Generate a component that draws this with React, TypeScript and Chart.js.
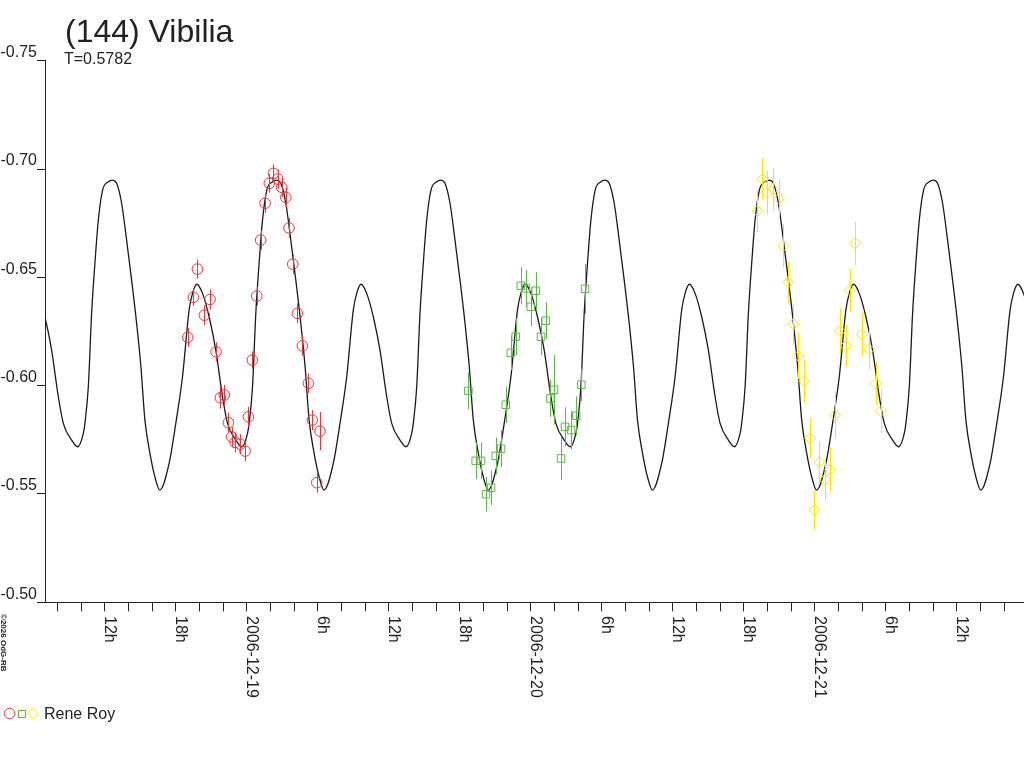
import { useEffect, useRef } from 'react';
import { Chart, registerables } from 'chart.js';

Chart.register(...registerables);

const INK = '#222222';
const FONT = '"Liberation Sans", Arial, sans-serif';
const RED = '#e8353a';
const GREEN = '#5cb946';
const YELLOW = '#ffe300';

const TITLE = '(144) Vibilia';
const SUBTITLE = 'T=0.5782';
const OBSERVER = 'Rene Roy';
const COPYRIGHT = '\u00a92026 OdG-RB';

// hours counted from 2006-12-19 00:00
const X_MIN = -17.05;
const X_MAX = 65.69;
const PERIOD_H = 0.5782 * 24;
const DEEP_MIN_H = 6.53;

// one cycle of the fitted lightcurve, phase 0 = deep minimum
const curvePhase = [0, 0.0566, 0.0974, 0.1382, 0.1784, 0.1991, 0.2253, 0.26, 0.3002, 0.341, 0.3819, 0.4123, 0.4629, 0.4994, 0.5341, 0.5439, 0.5646, 0.5847, 0.6048, 0.6255, 0.6516, 0.6864, 0.7107, 0.7369, 0.7674, 0.7978, 0.8283, 0.8587, 0.8849, 0.9093, 0.9397, 0.9702];
const curveMag = [-0.5518, -0.5641, -0.5826, -0.6041, -0.6349, -0.6426, -0.6468, -0.6426, -0.6318, -0.6164, -0.5949, -0.5826, -0.5749, -0.5718, -0.578, -0.5826, -0.5995, -0.6334, -0.6565, -0.6764, -0.6903, -0.6941, -0.6949, -0.6934, -0.6842, -0.6672, -0.6487, -0.6288, -0.6087, -0.5841, -0.5689, -0.5579];

const redHours = [-4.99, -4.51, -4.17, -3.58, -3.1, -2.59, -2.23, -1.89, -1.55, -1.27, -0.99, -0.54, -0.14, 0.14, 0.47, 0.85, 1.18, 1.55, 1.91, 2.25, 2.62, 2.96, 3.3, 3.57, 3.89, 4.28, 4.7, 5.21, 5.54, 5.92, 6.19];
const redMag = [-0.6223, -0.6408, -0.6538, -0.6325, -0.6398, -0.6156, -0.5944, -0.5957, -0.5829, -0.5764, -0.5738, -0.573, -0.5698, -0.5856, -0.6118, -0.6414, -0.6672, -0.6842, -0.6934, -0.698, -0.6954, -0.6915, -0.6869, -0.6728, -0.6561, -0.6334, -0.6184, -0.6011, -0.5841, -0.5552, -0.579];
const redErr = [0.0044, 0.004, 0.0044, 0.0046, 0.0046, 0.0044, 0.005, 0.0046, 0.0046, 0.0046, 0.0046, 0.0046, 0.0046, 0.0046, 0.004, 0.0044, 0.0044, 0.0044, 0.0044, 0.0042, 0.0044, 0.0044, 0.0044, 0.0046, 0.0046, 0.0046, 0.0046, 0.0046, 0.0046, 0.0046, 0.0088];

const greenHours = [18.73, 19.35, 19.8, 20.22, 20.65, 21.04, 21.49, 21.89, 22.31, 22.73, 23.16, 23.58, 24.0, 24.42, 24.87, 25.27, 25.66, 25.97, 26.56, 26.9, 27.41, 27.85, 28.28, 28.59];
const greenMag = [-0.5976, -0.5653, -0.5653, -0.5499, -0.5529, -0.5676, -0.5709, -0.5912, -0.6152, -0.6226, -0.6461, -0.6449, -0.6364, -0.6438, -0.6226, -0.63, -0.5941, -0.5981, -0.5664, -0.581, -0.5795, -0.5861, -0.6004, -0.6447];
const greenErr = [0.0085, 0.0085, 0.0085, 0.008, 0.008, 0.0085, 0.0085, 0.0085, 0.008, 0.0085, 0.0085, 0.0085, 0.009, 0.0085, 0.0085, 0.0085, 0.0085, 0.016, 0.01, 0.009, 0.009, 0.009, 0.0075, 0.0115];

const yellowHours = [43.15, 43.57, 44.0, 44.5, 44.98, 45.35, 45.77, 46.19, 46.62, 47.1, 47.6, 47.97, 48.39, 48.87, 49.29, 49.72, 50.14, 50.62, 50.98, 51.41, 51.97, 52.59, 53.18, 53.6];
const yellowMag = [-0.6806, -0.6954, -0.6891, -0.6906, -0.6865, -0.6646, -0.6477, -0.6284, -0.6138, -0.6021, -0.5757, -0.5426, -0.5646, -0.5566, -0.5612, -0.5864, -0.6252, -0.6184, -0.6441, -0.6657, -0.6237, -0.6168, -0.6011, -0.5883];
const yellowErr = [0.0096, 0.0096, 0.01, 0.01, 0.0088, 0.01, 0.0096, 0.0096, 0.0108, 0.01, 0.0092, 0.0092, 0.0096, 0.0096, 0.01, 0.0104, 0.0104, 0.0096, 0.01, 0.01, 0.01, 0.0092, 0.01, 0.01];

const yTicks = [-0.75, -0.7, -0.65, -0.6, -0.55, -0.5];
const xLabelHours = [-12, -6, 0, 6, 12, 18, 24, 30, 36, 42, 48, 54, 60];
const xLabelTexts = ['12h', '18h', '2006-12-19', '6h', '12h', '18h', '2006-12-20', '6h', '12h', '18h', '2006-12-21', '6h', '12h'];

const xMinorHours: number[] = [];
for (let h = -16; h <= 64; h += 2) xMinorHours.push(h);

const curvePoints: { x: number; y: number }[] = [];
for (let k = -2; k <= 5; k++) {
  curvePhase.forEach((p, i) => {
    const t = DEEP_MIN_H + (k + p) * PERIOD_H;
    if (t > X_MIN - 3 && t < X_MAX + 3) curvePoints.push({ x: t, y: curveMag[i] });
  });
}

const toPoints = (hours: number[], mags: number[]) => hours.map((h, i) => ({ x: h, y: mags[i] }));

const errorBars = {
  id: 'errorBars',
  afterDatasetsDraw(chart: any) {
    const { ctx } = chart;
    const yScale = chart.scales.y;
    chart.data.datasets.forEach((ds: any, i: number) => {
      if (!ds.errors) return;
      const meta = chart.getDatasetMeta(i);
      ctx.save();
      ctx.strokeStyle = ds.borderColor;
      ctx.lineWidth = 1;
      meta.data.forEach((pt: any, j: number) => {
        const v = ds.data[j].y;
        const e = ds.errors[j];
        const px = Math.round(pt.x) + 0.5;
        ctx.beginPath();
        ctx.moveTo(px, yScale.getPixelForValue(v - e));
        ctx.lineTo(px, yScale.getPixelForValue(v + e));
        ctx.stroke();
      });
      ctx.restore();
    });
  },
};

const overlayText = {
  id: 'overlayText',
  afterDraw(chart: any) {
    const { ctx } = chart;
    const xScale = chart.scales.x;
    ctx.save();
    ctx.fillStyle = INK;
    ctx.textAlign = 'left';
    ctx.textBaseline = 'alphabetic';
    ctx.font = `32px ${FONT}`;
    ctx.fillText(TITLE, 65, 41.5);
    ctx.font = `16px ${FONT}`;
    ctx.fillText(SUBTITLE, 64, 64);

    // x labels, rotated clockwise, reading downwards
    xLabelHours.forEach((h, i) => {
      ctx.save();
      ctx.translate(Math.round(xScale.getPixelForValue(h)), 616);
      ctx.rotate(Math.PI / 2);
      ctx.fillText(xLabelTexts[i], 0, 0);
      ctx.restore();
    });

    ctx.save();
    ctx.font = `bold 8px ${FONT}`;
    ctx.translate(0.5, 614);
    ctx.rotate(Math.PI / 2);
    ctx.fillText(COPYRIGHT, 0, 0);
    ctx.restore();

    // legend
    ctx.lineWidth = 1;
    ctx.strokeStyle = RED;
    ctx.beginPath();
    ctx.arc(9.5, 713.5, 5.3, 0, Math.PI * 2);
    ctx.stroke();
    ctx.strokeStyle = GREEN;
    ctx.strokeRect(18.5, 710.5, 7, 7);
    ctx.strokeStyle = YELLOW;
    ctx.beginPath();
    ctx.moveTo(27.8, 713.5);
    ctx.lineTo(33.3, 708);
    ctx.lineTo(38.8, 713.5);
    ctx.lineTo(33.3, 719);
    ctx.closePath();
    ctx.stroke();
    ctx.fillStyle = INK;
    ctx.font = `16px ${FONT}`;
    ctx.fillText(OBSERVER, 44, 718.5);
    ctx.restore();
  },
};

export default function App() {
  const canvasRef = useRef<HTMLCanvasElement>(null);

  useEffect(() => {
    const el = canvasRef.current;
    if (!el) return;

    const pointSet = (data: any[], errors: number[], color: string, style: string, radius: number) => ({
      data,
      errors,
      showLine: false,
      pointStyle: style,
      pointRadius: radius,
      pointBorderWidth: 1,
      borderColor: color,
      pointBorderColor: color,
      pointBackgroundColor: 'rgba(0,0,0,0)',
      backgroundColor: 'rgba(0,0,0,0)',
    });

    const chart = new Chart(el, {
      type: 'line',
      data: {
        datasets: [
          pointSet(toPoints(redHours, redMag), redErr, RED, 'circle', 5.3) as any,
          pointSet(toPoints(greenHours, greenMag), greenErr, GREEN, 'rect', 5.3) as any,
          pointSet(toPoints(yellowHours, yellowMag), yellowErr, YELLOW, 'rectRot', 5.5) as any,
          {
            data: curvePoints,
            borderColor: '#1a1a1a',
            borderWidth: 1.3,
            pointRadius: 0,
            fill: false,
            cubicInterpolationMode: 'monotone',
          },
        ],
      },
      options: {
        animation: false,
        responsive: true,
        maintainAspectRatio: false,
        events: [],
        layout: { autoPadding: false, padding: { top: 60.7, left: 0, right: 0, bottom: 0 } },
        font: { family: FONT },
        plugins: {
          legend: { display: false },
          tooltip: { enabled: false },
          title: { display: false },
        },
        scales: {
          x: {
            type: 'linear',
            min: X_MIN,
            max: X_MAX,
            afterBuildTicks: (s: any) => {
              s.ticks = xMinorHours.map((v) => ({ value: v }));
            },
            afterFit: (s: any) => {
              s.height = 768 - 602.3;
              s.paddingLeft = 0;
              s.paddingRight = 0;
            },
            ticks: { callback: () => '', autoSkip: false, maxRotation: 0, padding: 0 },
            grid: { drawOnChartArea: false, tickLength: 9, color: INK, lineWidth: 1 },
            border: { display: true, color: INK, width: 1 },
          },
          y: {
            type: 'linear',
            min: -0.75,
            max: -0.5,
            reverse: true,
            afterBuildTicks: (s: any) => {
              s.ticks = yTicks.map((v) => ({ value: v }));
            },
            afterFit: (s: any) => {
              s.width = 45;
            },
            ticks: {
              callback: (v: any) => Number(v).toFixed(2),
              autoSkip: false,
              font: { size: 16, family: FONT },
              color: INK,
              padding: 0,
              labelOffset: -8,
            },
            grid: { drawOnChartArea: false, tickLength: 8, color: INK, lineWidth: 1 },
            border: { display: true, color: INK, width: 1 },
          },
        },
      },
      plugins: [errorBars, overlayText],
    });

    return () => {
      chart.destroy();
    };
  }, []);

  return (
    <div style={{ position: 'absolute', left: 0, top: 0, width: 1024, height: 768, background: '#ffffff' }}>
      <canvas ref={canvasRef} style={{ display: 'block' }} />
    </div>
  );
}
